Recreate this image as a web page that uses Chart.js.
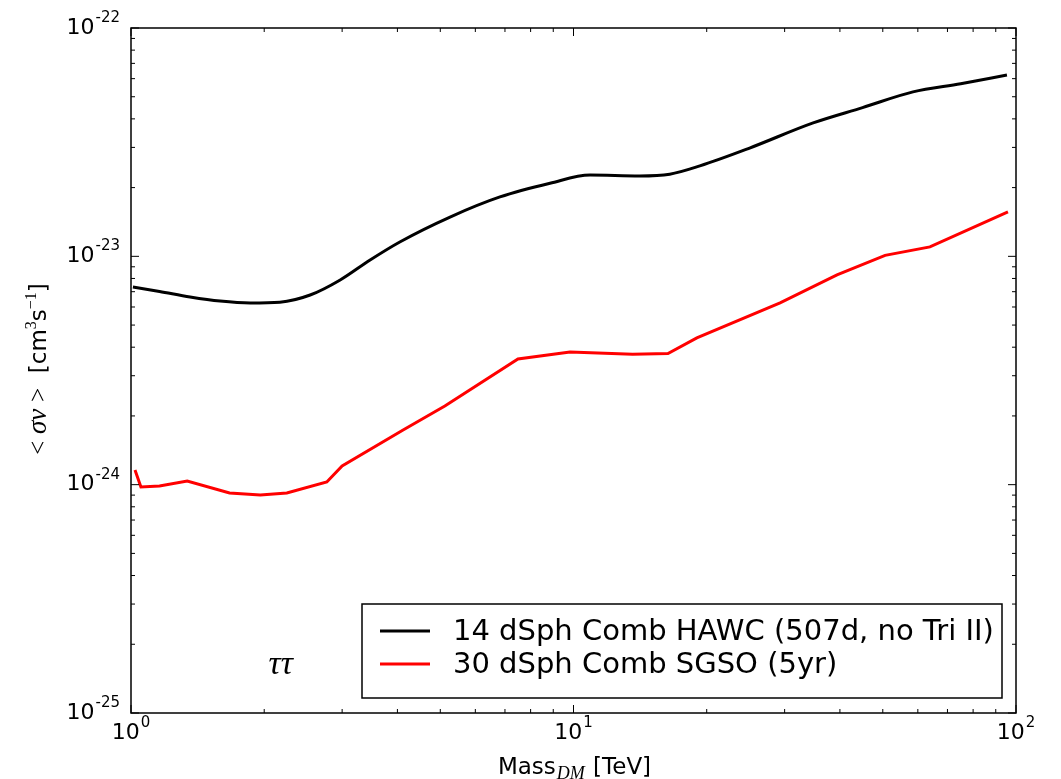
<!DOCTYPE html>
<html>
<head>
<meta charset="utf-8">
<script src="https://cdn.jsdelivr.net/npm/chart.js@4.4.1/dist/chart.umd.min.js"></script>
<style>
    body { margin: 0; background: #ffffff; }
    canvas { display: block; }
</style>
</head>
<body>
<canvas id="grafico" width="1061" height="779"></canvas>
<script>

// DATOS
const hawcMass = [1.01, 1.16, 1.36, 1.59, 1.86, 2.17, 2.54, 2.97, 3.47, 4.05, 5.26, 6.82, 8.85, 10.9, 14.1, 16.5, 19.3, 25.0, 34.8, 45.0, 58.5, 75.0, 95.4];
const hawcSigma = [7.34e-24, 7.02e-24, 6.64e-24, 6.37e-24, 6.25e-24, 6.3e-24, 6.77e-24, 7.88e-24, 9.64e-24, 1.156e-23, 1.486e-23, 1.82e-23, 2.09e-23, 2.27e-23, 2.25e-23, 2.29e-23, 2.49e-23, 2.98e-23, 3.84e-23, 4.48e-23, 5.25e-23, 5.7e-23, 6.22e-23];

const sgsoMass = [1.021, 1.053, 1.16, 1.34, 1.67, 1.96, 2.25, 2.77, 3.0, 4.12, 5.12, 7.49, 9.82, 13.6, 16.35, 19.0, 29.3, 39.4, 50.6, 63.9, 95.9];
const sgsoSigma = [1.159e-24, 9.77e-25, 9.86e-25, 1.038e-24, 9.19e-25, 9.01e-25, 9.19e-25, 1.028e-24, 1.207e-24, 1.735e-24, 2.21e-24, 3.55e-24, 3.81e-24, 3.73e-24, 3.75e-24, 4.39e-24, 6.25e-24, 8.29e-24, 1.01e-23, 1.10e-23, 1.564e-23];

const labels = ['14 dSph Comb HAWC (507d, no Tri II)', '30 dSph Comb SGSO (5yr)'];
const colores = ['#000000', '#ff0000'];

const xTickExp = [0, 1, 2];
const yTickExp = [-25, -24, -23, -22];

const FUENTE = '"DejaVu Sans", sans-serif';
const SERIF = '"Liberation Serif", serif';

function puntos(xs, ys) {
    return xs.map((x, i) => ({ x: x, y: ys[i] }));
}

// texto "10" con exponente
function potencia(ctx, exp, x, y, align) {
    ctx.font = '22px ' + FUENTE;
    const wBase = ctx.measureText('10').width;
    ctx.font = '15px ' + FUENTE;
    const sup = String(exp);
    const wSup = ctx.measureText(sup).width;
    const total = wBase + wSup + 1;

    let x0 = x;
    if (align === 'right') x0 = x - total;
    if (align === 'center') x0 = x - total / 2;

    ctx.textAlign = 'left';
    ctx.textBaseline = 'middle';
    ctx.font = '22px ' + FUENTE;
    ctx.fillText('10', x0, y);
    ctx.font = '15px ' + FUENTE;
    ctx.fillText(sup, x0 + wBase + 1, y - 10);
}

// EJES, TICKS, LEYENDA
const ejesPlugin = {
    id: 'ejes',
    afterDatasetsDraw(chart) {
        const ctx = chart.ctx;
        const a = chart.chartArea;
        const sx = chart.scales.x;
        const sy = chart.scales.y;

        ctx.save();
        ctx.fillStyle = '#000';
        ctx.strokeStyle = '#000';

        // ticks x
        ctx.lineWidth = 1;
        xTickExp.forEach((e, i) => {
            const base = Math.pow(10, e);
            const px = sx.getPixelForValue(base);
            ctx.beginPath();
            ctx.moveTo(px, a.bottom); ctx.lineTo(px, a.bottom - 8);
            ctx.moveTo(px, a.top); ctx.lineTo(px, a.top + 8);
            ctx.stroke();
            if (i < xTickExp.length - 1) {
                for (let k = 2; k <= 9; k++) {
                    const m = sx.getPixelForValue(base * k);
                    ctx.beginPath();
                    ctx.moveTo(m, a.bottom); ctx.lineTo(m, a.bottom - 4);
                    ctx.moveTo(m, a.top); ctx.lineTo(m, a.top + 4);
                    ctx.stroke();
                }
            }
            potencia(ctx, e, px, a.bottom + 20, 'center');
        });

        // ticks y
        yTickExp.forEach((e, i) => {
            const base = Math.pow(10, e);
            const py = sy.getPixelForValue(base);
            ctx.beginPath();
            ctx.moveTo(a.left, py); ctx.lineTo(a.left + 8, py);
            ctx.moveTo(a.right, py); ctx.lineTo(a.right - 8, py);
            ctx.stroke();
            if (i < yTickExp.length - 1) {
                for (let k = 2; k <= 9; k++) {
                    const m = sy.getPixelForValue(base * k);
                    ctx.beginPath();
                    ctx.moveTo(a.left, m); ctx.lineTo(a.left + 4, m);
                    ctx.moveTo(a.right, m); ctx.lineTo(a.right - 4, m);
                    ctx.stroke();
                }
            }
            potencia(ctx, e, a.left - 11, py, 'right');
        });

        // marco
        ctx.lineWidth = 1.5;
        ctx.strokeRect(a.left, a.top, a.right - a.left, a.bottom - a.top);

        // titulo x
        ctx.textBaseline = 'alphabetic';
        ctx.textAlign = 'left';
        const t1 = 'Mass';
        const t2 = 'DM';
        const t3 = ' [TeV]';
        ctx.font = '23px ' + FUENTE;
        const w1 = ctx.measureText(t1).width;
        const w3 = ctx.measureText(t3).width;
        ctx.font = 'italic 18px ' + SERIF;
        const w2 = ctx.measureText(t2).width;
        const xt = (a.left + a.right) / 2 - (w1 + w2 + w3) / 2;
        ctx.font = '23px ' + FUENTE;
        ctx.fillText(t1, xt, 774);
        ctx.font = 'italic 18px ' + SERIF;
        ctx.fillText(t2, xt + w1 + 1, 779);
        ctx.font = '23px ' + FUENTE;
        ctx.fillText(t3, xt + w1 + w2 + 2, 774);

        // titulo y
        ctx.save();
        ctx.translate(46, 369);
        ctx.rotate(-Math.PI / 2);
        const partes = [
            ['<', '25px ' + SERIF, 0],
            [' \u03c3v ', 'italic 27px ' + SERIF, 0],
            ['>', '25px ' + SERIF, 0],
            ['  [cm', '23px ' + FUENTE, 0],
            ['3', '16px ' + SERIF, -10],
            ['s', '23px ' + FUENTE, 0],
            ['\u22121', '16px ' + SERIF, -10],
            [']', '23px ' + FUENTE, 0]
        ];
        let anchoY = 0;
        partes.forEach(p => { ctx.font = p[1]; anchoY += ctx.measureText(p[0]).width; });
        let xx = -anchoY / 2;
        partes.forEach(p => {
            ctx.font = p[1];
            ctx.fillText(p[0], xx, p[2]);
            xx += ctx.measureText(p[0]).width;
        });
        ctx.restore();

        // tau tau
        ctx.font = 'italic 34px ' + SERIF;
        ctx.textAlign = 'center';
        ctx.fillText('\u03c4\u03c4', sx.getPixelForValue(2.18), sy.getPixelForValue(1.48e-25));

        // leyenda
        ctx.lineWidth = 1.5;
        ctx.strokeStyle = '#000';
        ctx.strokeRect(362, 604, 640, 94);
        ctx.font = '29px ' + FUENTE;
        ctx.textAlign = 'left';
        ctx.textBaseline = 'middle';
        chart.data.datasets.forEach((ds, i) => {
            const yl = 631 + i * 33;
            ctx.strokeStyle = ds.borderColor;
            ctx.lineWidth = 3;
            ctx.beginPath();
            ctx.moveTo(380, yl); ctx.lineTo(430, yl);
            ctx.stroke();
            ctx.fillStyle = '#000';
            ctx.fillText(ds.label, 453, yl + 1);
        });

        ctx.restore();
    }
};

new Chart(
    document.getElementById('grafico'),
    {
        type: 'line',
        data: {
            datasets: [
                {
                    label: labels[0],
                    data: puntos(hawcMass, hawcSigma),
                    borderColor: colores[0],
                    borderWidth: 3,
                    pointRadius: 0,
                    cubicInterpolationMode: 'monotone',
                    fill: false
                },
                {
                    label: labels[1],
                    data: puntos(sgsoMass, sgsoSigma),
                    borderColor: colores[1],
                    borderWidth: 3,
                    pointRadius: 0,
                    tension: 0,
                    fill: false
                }
            ]
        },
        options: {
            responsive: false,
            animation: false,
            layout: {
                padding: { top: 28, right: 45, left: 0, bottom: 0 }
            },
            plugins: {
                legend: { display: false },
                tooltip: { enabled: false }
            },
            scales: {
                x: {
                    type: 'logarithmic',
                    min: 1,
                    max: 100,
                    ticks: { display: false },
                    grid: { display: false },
                    border: { display: false },
                    afterFit: s => { s.height = 66; }
                },
                y: {
                    type: 'logarithmic',
                    min: 1e-25,
                    max: 1e-22,
                    ticks: { display: false },
                    grid: { display: false },
                    border: { display: false },
                    afterFit: s => { s.width = 131; }
                }
            }
        },
        plugins: [ejesPlugin]
    }
);
</script>
</body>
</html>
